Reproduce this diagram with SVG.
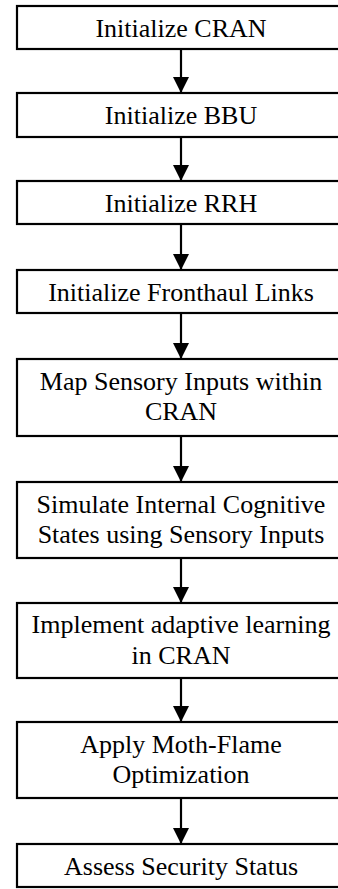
<svg xmlns="http://www.w3.org/2000/svg" width="338" height="889" viewBox="0 0 338 889">
<style>
.box{fill:#fff;stroke:#000;stroke-width:2.2}
.t{font-family:"Liberation Serif","Times New Roman",serif;font-size:26px;fill:#000;text-anchor:middle}
.c{stroke:#000;stroke-width:2.2;fill:none}
</style>
<defs>
<marker id="ah" markerUnits="userSpaceOnUse" markerWidth="16" markerHeight="16" refX="16" refY="8" orient="auto">
<path d="M0,0 L16,8 L0,16 Z" fill="#000"/>
</marker>
</defs>
<rect width="338" height="889" fill="#fff"/>
<g id="connectors">
<line class="c" x1="181" y1="49" x2="181" y2="93" marker-end="url(#ah)"/>
<line class="c" x1="181" y1="137" x2="181" y2="181" marker-end="url(#ah)"/>
<line class="c" x1="181" y1="224" x2="181" y2="270" marker-end="url(#ah)"/>
<line class="c" x1="181" y1="313" x2="181" y2="359" marker-end="url(#ah)"/>
<line class="c" x1="181" y1="436" x2="181" y2="482" marker-end="url(#ah)"/>
<line class="c" x1="181" y1="558" x2="181" y2="603" marker-end="url(#ah)"/>
<line class="c" x1="181" y1="678" x2="181" y2="722" marker-end="url(#ah)"/>
<line class="c" x1="181" y1="798" x2="181" y2="844" marker-end="url(#ah)"/>
</g>
<g id="n1"><rect class="box" x="17" y="6" width="328" height="43"/><text class="t" x="181" y="36.5">Initialize CRAN</text></g>
<g id="n2"><rect class="box" x="17" y="93" width="328" height="44"/><text class="t" x="181" y="124">Initialize BBU</text></g>
<g id="n3"><rect class="box" x="17" y="181" width="328" height="43"/><text class="t" x="181" y="211.5">Initialize RRH</text></g>
<g id="n4"><rect class="box" x="17" y="270" width="328" height="43"/><text class="t" x="181" y="300.5">Initialize Fronthaul Links</text></g>
<g id="n5"><rect class="box" x="17" y="359" width="328" height="77"/><text class="t" x="181" y="389.5">Map Sensory Inputs within</text><text class="t" x="181" y="420">CRAN</text></g>
<g id="n6"><rect class="box" x="17" y="482" width="328" height="76"/><text class="t" x="181" y="512.5">Simulate Internal Cognitive</text><text class="t" x="181" y="543">States using Sensory Inputs</text></g>
<g id="n7"><rect class="box" x="17" y="603" width="328" height="75"/><text class="t" x="181" y="633">Implement adaptive learning</text><text class="t" x="181" y="664">in CRAN</text></g>
<g id="n8"><rect class="box" x="17" y="722" width="328" height="76"/><text class="t" x="181" y="752.5">Apply Moth-Flame</text><text class="t" x="181" y="783">Optimization</text></g>
<g id="n9"><rect class="box" x="17" y="844" width="328" height="43"/><text class="t" x="181" y="874.5">Assess Security Status</text></g>
</svg>
